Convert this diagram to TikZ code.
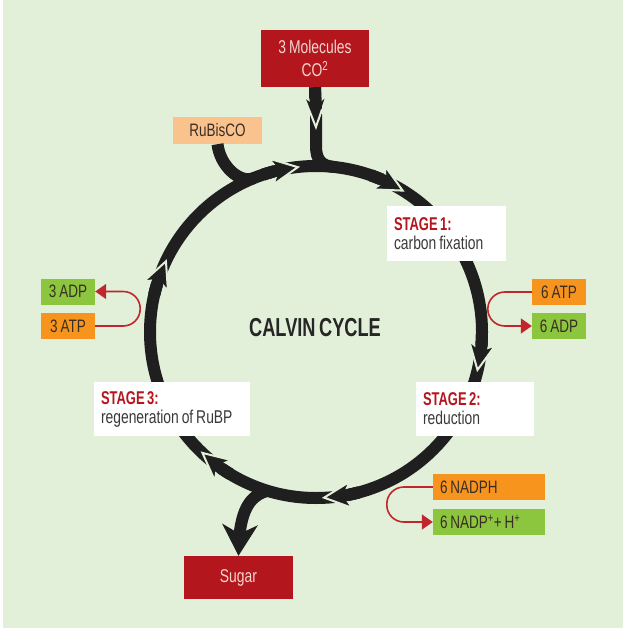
\documentclass[tikz,border=0pt]{standalone}
\usepackage{fontspec}
\usetikzlibrary{arrows.meta,bending}

\newfontfamily\cond[FakeStretch=0.75,WordSpace=0.75]{Liberation Sans}
\newfontfamily\condtitle[FakeStretch=0.7,WordSpace=0.7]{Liberation Sans}

\definecolor{bgc}{HTML}{E3F0D9}
\definecolor{inkc}{HTML}{1F1F1F}
\definecolor{boxred}{HTML}{B3161C}
\definecolor{boxtext}{HTML}{F4D6CF}
\definecolor{rubc}{HTML}{FAC28C}
\definecolor{atpc}{HTML}{F7941D}
\definecolor{adpc}{HTML}{8CC63F}
\definecolor{chemtext}{HTML}{3A2E24}
\definecolor{stagetext}{HTML}{3A3A3A}
\definecolor{redt}{HTML}{B5161D}
\definecolor{loopred}{HTML}{C0262C}
\definecolor{titletext}{HTML}{262626}

% spazi naturali del font anche nei nodi con text width
\newcommand\natspace{\spaceskip=0pt\xspaceskip=0pt\relax}
\newcommand\stagetitle[1]{{\condtitle\bfseries\color{redt}#1}}

\begin{document}
\begin{tikzpicture}[x=1pt, y=1pt, yscale=-1,
    ring/.style={draw=inkc, line width=12pt},
    ringhead/.style={ring, -{Stealth[length=32pt, width=31pt, inset=9pt, color=bgc, fill=inkc, line width=2pt]}},
    co2head/.style={ring, -{Stealth[length=38pt, width=28pt, inset=12pt, color=bgc, fill=inkc, line width=2pt]}},
    sugarhead/.style={ring, -{Stealth[length=31pt, width=35pt, inset=9pt]}},
    redbox/.style={fill=boxred, text=boxtext, inner sep=0pt, align=center, font=\cond\fontsize{18.5}{23}\selectfont},
    chem/.style={inner sep=0pt, minimum width=54pt, minimum height=26pt, text=chemtext, font=\cond\fontsize{18}{19}\selectfont},
    stagebox/.style={fill=white, inner sep=0pt, align=left, text=stagetext, font=\cond\fontsize{18.5}{19}\selectfont},
    redloop/.style={draw=loopred, line width=1.6pt, rounded corners=17pt, -{Triangle[length=11pt, width=15pt]}}
]
    % Sfondo e area del disegno
    \fill[white] (0,0) rectangle (623,628);
    \fill[bgc] (3,0) rectangle (623,628);
    \useasboundingbox (0,0) rectangle (623,628);

    % Ingresso e uscita del ciclo
    \node[redbox, minimum width=108pt, minimum height=57pt] (co2) at (315,58.5) {3 Molecules\\CO\textsuperscript{2}};
    \node[chem, fill=rubc, minimum width=89pt, minimum height=27pt] (rubisco) at (217.5,130.5) {RuBisCO};
    \node[redbox, minimum width=109pt, minimum height=43pt] (sugar) at (238.5,577.5) {Sugar};

    % Anello del ciclo e punti di innesto
    \coordinate (c) at (316,332);
    \coordinate (co2tip) at (316,130);
    \path (c) ++(-112:166) coordinate (rj);
    \path (c) ++(-84:166) coordinate (cj);
    \path (c) ++(107:166) coordinate (sj);
    \draw[ring] (c) circle[radius=166];
    \draw[ring] (rubisco.south) .. controls (220,166) and (240,184) .. (rj);
    \draw[ring] (316,114) -- (316,146) .. controls (316,160) and (321.5,165.6) .. (cj);

    % Freccia del CO2
    \draw[co2head] (co2.south) -- (co2tip);
    \draw[ring] (co2.south) -- (316,109);

    % Punte lungo l'anello (inizio/fine punta/fine linea)
    \foreach \s/\e/\t in {-108.5/-101.7/-95.5, -70.7/-63.9/-57.7, 1/7.8/14, 75/81.8/88, 121/127.8/134, 193/199.8/206} {
        \draw[ringhead] (c) ++(\s:166) arc[start angle=\s, end angle=\t, radius=166];
        \draw[ring] (c) ++(\s:166) arc[start angle=\s, end angle=\e, radius=166]; % copre il bordo dietro la punta
    }

    % Uscita verso lo zucchero
    \draw[sugarhead] (sj) .. controls (253,495) and (238.5,505) .. (sugar.north);

    % Le tre fasi
    \node[stagebox, minimum width=119pt, minimum height=55pt, text width=105pt] (stage1) at (446.5,233.5) {\natspace\stagetitle{STAGE 1:}\\carbon fixation};
    \node[stagebox, minimum width=118pt, minimum height=54pt, text width=104pt] (stage2) at (475,409) {\natspace\stagetitle{STAGE 2:}\\reduction};
    \node[stagebox, minimum width=156pt, minimum height=54pt, text width=142pt] (stage3) at (172,409) {\natspace\stagetitle{STAGE 3:}\\regeneration of RuBP};

    % Molecole consumate e prodotte
    \node[chem, fill=atpc] (atp6) at (559,292) {6 ATP};
    \node[chem, fill=adpc] (adp6) at (559,326) {6 ADP};
    \node[chem, fill=adpc] (adp3) at (68,291.5) {3 ADP};
    \node[chem, fill=atpc] (atp3) at (68,326) {3 ATP};
    \node[chem, fill=atpc, minimum width=112pt, text width=98pt, align=left] (nadph) at (489,487) {\natspace 6 NADPH};
    \node[chem, fill=adpc, minimum width=112pt, text width=98pt, align=left] (nadp) at (489,522) {\natspace 6 NADP\textsuperscript{+}+ H\textsuperscript{+}};

    \draw[redloop] (atp6.west) -- ++(-44,0) |- (adp6.west);
    \draw[redloop] (atp3.east) -- ++(45,0) |- (adp3.east);
    \draw[redloop] (nadph.west) -- ++(-46,0) |- (nadp.west);

    % Titolo al centro
    \node[text=titletext, font=\condtitle\bfseries\fontsize{26}{28}\selectfont] (title) at (315,328) {CALVIN CYCLE};
\end{tikzpicture}
\end{document}
